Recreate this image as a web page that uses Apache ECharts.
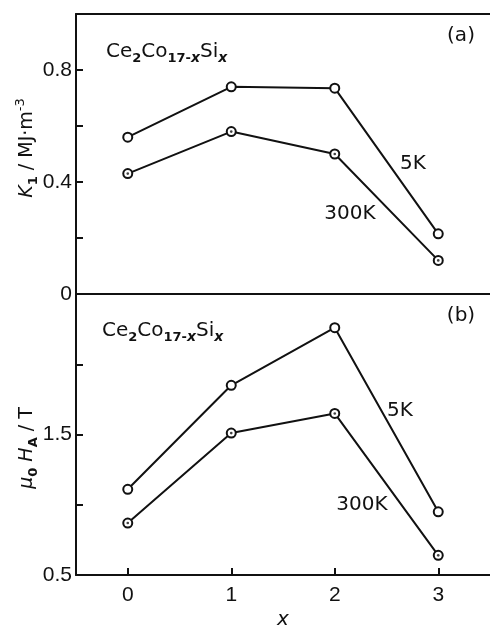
<!DOCTYPE html>
<html>
<head>
<meta charset="utf-8">
<script src="https://cdn.jsdelivr.net/npm/echarts@6/dist/echarts.min.js"></script>
<style>
html,body{margin:0;padding:0;background:#fff;}
#c{width:490px;height:629px;}
</style>
</head>
<body>
<div id="c"></div>
<script>
// ---- data ----
const xValues = [0, 1, 2, 3];
const k1_5K = [0.56, 0.74, 0.735, 0.215];
const k1_300K = [0.43, 0.58, 0.50, 0.12];
const ha_5K = [1.11, 1.85, 2.26, 0.95];
const ha_300K = [0.87, 1.51, 1.65, 0.64];
const xTickValues = [0, 1, 2, 3];
const topYLabelValues = [0, 0.4, 0.8];
const bottomYLabelValues = [0.5, 1.5];

const FONT = '"Liberation Sans", Arial, sans-serif';
const TFONT = '"DejaVu Sans", sans-serif';
const INK = '#111';

function pairs(xs, ys) { return xs.map((x, i) => [x, ys[i]]); }

const chart = echarts.init(document.getElementById('c'), null, {renderer: 'canvas'});

const axisLine = {show: true, onZero: false, lineStyle: {color: INK, width: 2}};
const labelStyle = {color: INK, fontSize: 21, fontFamily: FONT};

function lineSeries(xi, yi, ys) {
  return {
    type: 'line', xAxisIndex: xi, yAxisIndex: yi, data: pairs(xValues, ys),
    symbol: 'emptyCircle', symbolSize: 9,
    lineStyle: {color: INK, width: 2},
    itemStyle: {color: INK, borderWidth: 1.5},
    z: 3
  };
}
function dotSeries(xi, yi, ys) {
  return {
    type: 'scatter', xAxisIndex: xi, yAxisIndex: yi, data: pairs(xValues, ys),
    symbol: 'circle', symbolSize: 2.6, itemStyle: {color: INK}, z: 6, silent: true
  };
}

const rich = {
  n: {fontSize: 20, lineHeight: 26, fontFamily: TFONT, color: INK},
  i: {fontSize: 20, lineHeight: 26, fontFamily: TFONT, color: INK, fontStyle: 'italic'},
  s: {fontSize: 13, lineHeight: 12, verticalAlign: 'bottom', fontFamily: TFONT, color: INK, fontWeight: 'bold'},
  si: {fontSize: 14, lineHeight: 12, verticalAlign: 'bottom', fontFamily: TFONT, color: INK, fontWeight: 'bold', fontStyle: 'italic'},
  sup: {fontSize: 13, lineHeight: 12, verticalAlign: 'top', fontFamily: TFONT, color: INK},
  an: {fontSize: 19, lineHeight: 26, fontFamily: TFONT, color: INK},
  ai: {fontSize: 19, lineHeight: 26, fontFamily: TFONT, color: INK, fontStyle: 'italic'}
};

function txt(x, y, text, extra, align) {
  return Object.assign({
    type: 'text', x: x, y: y, z: 10,
    style: {text: text, rich: rich, align: align || 'center', verticalAlign: 'middle',
            fill: INK, font: '20px ' + TFONT}
  }, extra || {});
}

const formula = '{n|Ce}{s|2}{n|Co}{s|17-}{si|x}{n|Si}{si|x}';

chart.setOption({
  animation: false,
  backgroundColor: '#fff',
  grid: [
    {left: 76, right: -1, top: 14, height: 280},
    {left: 76, right: -1, top: 294, height: 281}
  ],
  xAxis: [
    {gridIndex: 0, type: 'value', min: -0.5, max: 3.5, position: 'bottom',
     axisLine: axisLine, axisTick: {show: false}, axisLabel: {show: false}, splitLine: {show: false}},
    {gridIndex: 0, type: 'value', min: -0.5, max: 3.5, position: 'top',
     axisLine: axisLine, axisTick: {show: false}, axisLabel: {show: false}, splitLine: {show: false}},
    {gridIndex: 1, type: 'value', min: -0.5, max: 3.5, position: 'bottom',
     axisLine: axisLine,
     axisTick: {show: true, inside: true, length: 7, customValues: xTickValues, lineStyle: {color: INK, width: 2}},
     axisLabel: Object.assign({customValues: xTickValues, margin: 10}, labelStyle),
     splitLine: {show: false}}
  ],
  yAxis: [
    {gridIndex: 0, type: 'value', min: 0, max: 1, interval: 0.2,
     axisLine: axisLine,
     axisTick: {show: true, inside: true, length: 7, lineStyle: {color: INK, width: 2}},
     axisLabel: Object.assign({customValues: topYLabelValues, margin: 4,
       formatter: v => String(Math.round(v * 10) / 10)}, labelStyle),
     splitLine: {show: false}},
    {gridIndex: 1, type: 'value', min: 0.5, max: 2.5, interval: 0.5,
     axisLine: axisLine,
     axisTick: {show: true, inside: true, length: 7, lineStyle: {color: INK, width: 2}},
     axisLabel: Object.assign({customValues: bottomYLabelValues, margin: 4,
       formatter: v => String(Math.round(v * 10) / 10)}, labelStyle),
     splitLine: {show: false}}
  ],
  series: [
    lineSeries(0, 0, k1_5K),
    lineSeries(0, 0, k1_300K),
    dotSeries(0, 0, k1_300K),
    lineSeries(2, 1, ha_5K),
    lineSeries(2, 1, ha_300K),
    dotSeries(2, 1, ha_300K)
  ],
  graphic: [
    txt(106, 52, formula, null, 'left'),
    txt(102, 331, formula, null, 'left'),
    txt(461, 36, '{n|(a)}'),
    txt(461, 316, '{n|(b)}'),
    txt(413, 164, '{n|5K}'),
    txt(350, 214, '{n|300K}'),
    txt(400, 411, '{n|5K}'),
    txt(362, 505, '{n|300K}'),
    txt(283, 620, '{i|x}'),
    txt(27, 148, '{ai|K}{s|1}{an| / MJ·m}{sup|-3}', {rotation: Math.PI / 2}),
    txt(27, 448, '{ai|μ}{s|0}{an| }{ai|H}{s|A}{an| / T}', {rotation: Math.PI / 2})
  ]
});
</script>
</body>
</html>
